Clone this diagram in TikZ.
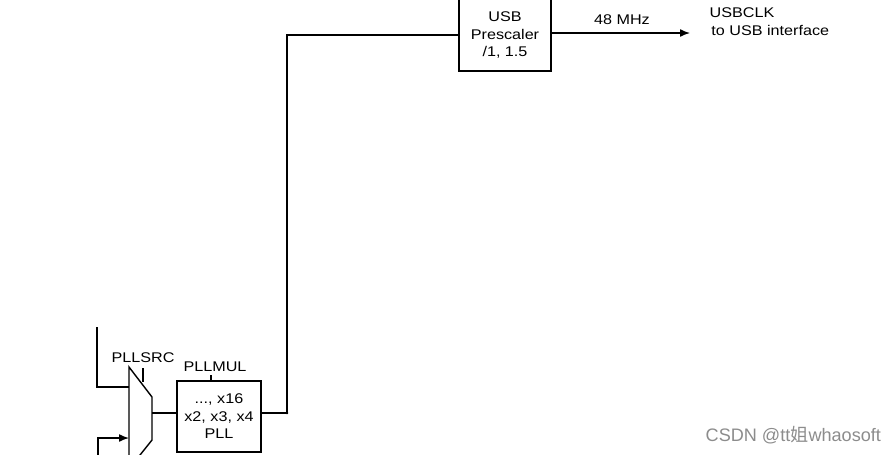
\documentclass[tikz,border=0pt]{standalone}
\usepackage{fontspec}
\setmainfont{Liberation Sans}
\newfontfamily\widefont{Liberation Sans}[FakeStretch=1.15]
\newfontfamily\cjkfont{Noto Sans CJK SC}
\usetikzlibrary{shapes,positioning,calc,arrows.meta}
\definecolor{markgray}{rgb}{0.55,0.55,0.55}

\begin{document}
\begin{tikzpicture}
  [x=0.02cm,y=-0.02cm,
   blockN/.style={draw,align=center,inner sep=0pt,font=\widefont\fontsize{8}{10}\selectfont},
   labelN/.style={inner sep=0pt,font=\widefont\fontsize{8}{10}\selectfont},
   sigarrow/.style={-{Latex[length=2mm,width=1.6mm]}},
   thick]

  \clip (0,0) rectangle (896,454);

  % mux corners
  \coordinate (mux_tl) at (129,367);
  \coordinate (mux_tr) at (152,397);
  \coordinate (mux_br) at (152,440);
  \coordinate (mux_bl) at (129,470);
  \coordinate (mux_out) at (152,413);
  \coordinate (mux_in1) at (129,387);
  \coordinate (mux_in2) at (129,438);

  \coordinate (src1) at (97,327);
  \coordinate (src2) at (98,460);
  \coordinate (jn) at (287,413);
  \coordinate (usbclk) at (690,33);

  \node[blockN,minimum width=1.84cm,minimum height=1.44cm] (usbpre) at (505,35) {USB\\Prescaler\\/1, 1.5};
  \node[blockN,minimum width=1.68cm,minimum height=1.42cm] (pll) at (219,416.5) {..., x16\\x2, x3, x4\\PLL};

  \node[labelN] (pllsrc) at (143,358) {PLLSRC};
  \node[labelN] (pllmul) at (215,367) {PLLMUL};
  \node[labelN] (mhz) at (622,20) {48 MHz};
  \node[labelN,anchor=north west,align=left] (usbout) at (709,7) {USBCLK\\\hspace{1pt}to USB interface};

  \node[anchor=west,inner sep=0pt,text=markgray,font=\fontsize{10.3}{12}\selectfont] (mark) at (705,435)
    {CSDN @tt{\cjkfont 姐}whaosoft};

  % mux
  \draw [] (mux_bl) -- (mux_tl) -- (mux_tr) -- (mux_br) -- (136,460);
  \draw [] (143,368) -- (143,382);
  \draw [] (211,375) -- (pll.north -| 211,0);

  % inputs
  \draw [] (src1) |- (mux_in1);
  \draw [sigarrow] (src2) |- (mux_in2);

  % mux to pll to usb prescaler
  \draw [] (mux_out) -- (pll.west |- mux_out);
  \draw [] (pll.east |- jn) -- (jn) |- (usbpre.west);
  \fill (jn) circle (1.3);
  \draw [sigarrow] (usbpre.east |- usbclk) -- (usbclk);
\end{tikzpicture}
\end{document}
